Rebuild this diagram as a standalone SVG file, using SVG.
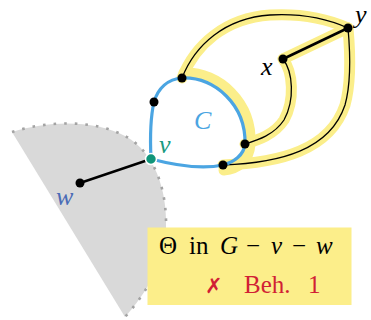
<svg xmlns="http://www.w3.org/2000/svg" width="371" height="320" viewBox="0 0 371 320">
<style>
.hl{fill:none;stroke:#fbee8a;stroke-width:11;stroke-linecap:round;stroke-linejoin:round}
.thin{fill:none;stroke:#000;stroke-width:1.3}
.cyc{fill:none;stroke:#4ba5e2;stroke-width:3.2;stroke-linejoin:round}
.nd{fill:#000}
.lbl{font-family:"Liberation Serif",serif;font-style:italic;font-size:26px}
.box{font-family:"Liberation Serif",serif;font-size:25px}
</style>
<g id="region">
<path d="M12,132 C50,120 95,120 125,136 C155,152 167,190 166,228 C165,262 147,292 125,317 Z" fill="#d9d9d9"/>
<path d="M12,132 C50,120 95,120 125,136 C155,152 167,190 166,228 C165,262 147,292 125,317" fill="none" stroke="#a3a3a3" stroke-width="2.6" stroke-dasharray="2.6 8"/>
</g>
<g id="connectors">
<g id="highlight">
<path class="hl" d="M182,78 C195,45 225,18 270,15 C305,13 330,20 348,28"/>
<path class="hl" d="M223,165 C280,163 330,150 345,105 C352,80 350,50 348,28"/>
<path class="hl" d="M348,28 L283,59"/>
<path class="hl" d="M283,59 C293,72 295,100 284,120 C274,135 258,140 245,144"/>
<path class="hl" d="M184,73 C219,72 252,103 250,144 C249,160 238,169 224,170"/>
</g>
<path class="thin" d="M182,78 C195,45 225,18 270,15 C305,13 330,20 348,28"/>
<path class="thin" d="M223,165 C280,163 330,150 345,105 C352,80 350,50 348,28"/>
<path class="thin" d="M283,59 C293,72 295,100 284,120 C274,135 258,140 245,144"/>
<path d="M348,28 L283,59" stroke="#000" stroke-width="2.6"/>
<path id="cycle-C" class="cyc" d="M151,159 C150,138 151,115 154,102 C158,88 168,79 182,78 C215,77 246,105 245,144 C244,155 234,162 223,165 C200,170 170,164 151,159"/>
<path d="M80,183 L151,159" stroke="#000" stroke-width="2.4"/>
</g>
<g id="node-top"><circle class="nd" cx="182" cy="78" r="4.5"/></g>
<g id="node-left"><circle class="nd" cx="154" cy="102" r="4.5"/></g>
<g id="node-right"><circle class="nd" cx="245" cy="144" r="4.5"/></g>
<g id="node-bottom"><circle class="nd" cx="223" cy="165" r="4.5"/></g>
<g id="node-x"><circle class="nd" cx="283" cy="59" r="4.5"/><text class="lbl" x="261" y="75">x</text></g>
<g id="node-y"><circle class="nd" cx="348" cy="28" r="4.5"/><text class="lbl" x="355" y="23" font-size="21">y</text></g>
<g id="node-w"><circle class="nd" cx="80" cy="183" r="4.5"/><text class="lbl" x="56" y="205" fill="#4a6bb6">w</text></g>
<g id="node-v"><circle cx="151" cy="159" r="5.5" fill="#10957a" stroke="#fff" stroke-width="1.6"/><text class="lbl" x="159" y="153" fill="#1a9a80">v</text></g>
<g id="label-C"><text class="lbl" x="194" y="129" fill="#4ba5e2">C</text></g>
<g id="note">
<rect x="147.5" y="227.5" width="204" height="77.5" fill="#fcee8a"/>
<text class="box" y="254"><tspan x="159">Θ</tspan><tspan x="189">in</tspan><tspan x="220" font-style="italic">G</tspan><tspan x="246">−</tspan><tspan x="271" font-style="italic">v</tspan><tspan x="292">−</tspan><tspan x="316" font-style="italic">w</tspan></text>
<text class="box" y="293" fill="#d11f35"><tspan x="205" font-family="DejaVu Sans,sans-serif" font-weight="bold" font-size="21">✗</tspan><tspan x="244">Beh.</tspan><tspan x="308">1</tspan></text>
</g>
</svg>
